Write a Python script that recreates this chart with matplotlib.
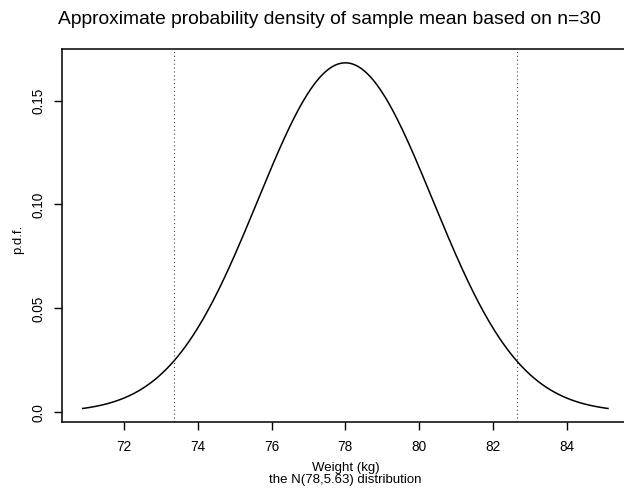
import numpy as np
import matplotlib
matplotlib.use("Agg")
import matplotlib.pyplot as plt

# Data: N(78, 5.63) distribution of the sample mean, n = 30
mean_weight = 78.0
variance = 5.63
n_sample = 30
z_crit = 1.96
x_ticks = [72, 74, 76, 78, 80, 82, 84]
y_ticks = [0.0, 0.05, 0.10, 0.15]
y_tick_labels = ["0.0", "0.05", "0.10", "0.15"]

sd = np.sqrt(variance)
x = np.linspace(mean_weight - 3 * sd, mean_weight + 3 * sd, 400)
pdf = np.exp(-0.5 * ((x - mean_weight) / sd) ** 2) / (sd * np.sqrt(2 * np.pi))
lims = [mean_weight - z_crit * sd, mean_weight + z_crit * sd]

plt.rcParams['font.family'] = ['Liberation Sans', 'DejaVu Sans']

W, H = 624, 493
fig = plt.figure(figsize=(W / 100, H / 100), dpi=100)
left, right, top, bottom = 61.7, 629.0, 49.0, 422.3
ax = fig.add_axes([left / W, 1 - bottom / H, (right - left) / W, (bottom - top) / H])

ax.plot(x, pdf, color='black', lw=1.1)
for v in lims:
    ax.axvline(v, color='#444444', lw=0.8, linestyle=(0, (1, 2.5)))

xr = x.max() - x.min()
ax.set_xlim(x.min() - 0.04 * xr, x.max() + 0.04 * xr)
yr = pdf.max() - pdf.min()
ax.set_ylim(pdf.min() - 0.04 * yr, pdf.max() + 0.04 * yr)

ax.set_xticks(x_ticks)
ax.set_xticklabels([str(t) for t in x_ticks], fontsize=9.8)
ax.set_yticks(y_ticks)
ax.set_yticklabels(y_tick_labels, fontsize=9.8, rotation=90, va='center')
ax.tick_params(axis='both', direction='out', length=6, width=1.0, color='black')
ax.tick_params(axis='x', pad=7)
ax.tick_params(axis='y', pad=6)
for s in ax.spines.values():
    s.set_linewidth(1.1)
    s.set_color('black')

fig.text(329 / W, 1 - 20 / H, "Approximate probability density of sample mean based on n=%d" % n_sample,
         ha='center', va='center', fontsize=13.9)
fig.text((left + right) / 2 / W, 1 - 474 / H, "Weight (kg)\nthe N(%g,%g) distribution" % (mean_weight, variance),
         ha='center', va='center', fontsize=9.5, linespacing=0.9)
fig.text(18 / W, 1 - 239 / H, "p.d.f.", rotation=90, ha='center', va='center', fontsize=9.5)

fig.savefig("out.png", dpi=100)
